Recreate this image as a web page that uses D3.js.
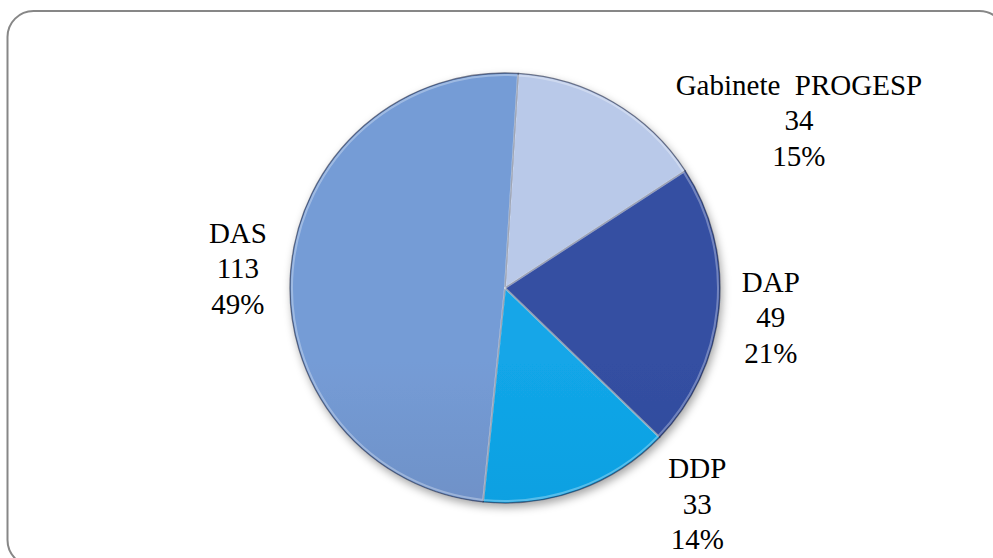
<!DOCTYPE html>
<html>
<head>
<meta charset="utf-8">
<script src="https://cdn.jsdelivr.net/npm/d3@7"></script>
<style>
  html, body { margin: 0; padding: 0; background: #ffffff; }
  svg { display: block; }
</style>
</head>
<body>
<div id="chart"></div>
<script>
// data
var categories = ["Gabinete  PROGESP", "DAP", "DDP", "DAS"];
var values = [34, 49, 33, 113];

// look of each slice: gradient top / bottom
var colorsTop = ["#b9c9e9", "#344fa2", "#12a6e8", "#759cd6"];
var colorsBottom = ["#97a8c4", "#2a438e", "#0795d4", "#627cab"];
// small nudges for labels that Excel pushed off the radial line
var labelShift = [[160, 62], [1, 4], [101, -34], [-2, 2]];

var width = 993, height = 558;
var cx = 505, cy = 288, radius = 215;
var rotation = 3.5 * Math.PI / 180;

var svg = d3.select("#chart").append("svg")
  .attr("width", width)
  .attr("height", height);

var defs = svg.append("defs");

var shadow = defs.append("filter")
  .attr("id", "shadow")
  .attr("x", "-20%").attr("y", "-20%")
  .attr("width", "140%").attr("height", "140%");
shadow.append("feDropShadow")
  .attr("dx", 2).attr("dy", 4)
  .attr("stdDeviation", 4)
  .attr("flood-color", "#000")
  .attr("flood-opacity", 0.35);

categories.forEach(function(c, i) {
  var g = defs.append("linearGradient")
    .attr("id", "grad" + i)
    .attr("gradientUnits", "userSpaceOnUse")
    .attr("x1", 0).attr("y1", cy - radius)
    .attr("x2", 0).attr("y2", cy + radius);
  g.append("stop").attr("offset", "0%").attr("stop-color", colorsTop[i]);
  g.append("stop").attr("offset", "100%").attr("stop-color", colorsBottom[i]);
});

// frame
svg.append("rect")
  .attr("x", 7.5).attr("y", 11)
  .attr("width", 998).attr("height", 555)
  .attr("rx", 26).attr("ry", 26)
  .attr("fill", "none")
  .attr("stroke", "#878787")
  .attr("stroke-width", 2);

var pie = d3.pie()
  .sort(null)
  .startAngle(rotation)
  .endAngle(rotation + 2 * Math.PI)
  .value(function(d) { return d; });

var arcs = pie(values);
var total = d3.sum(values);

var arc = d3.arc().innerRadius(0).outerRadius(radius);
var bevel = d3.arc().innerRadius(0).outerRadius(radius - 2);

var group = svg.append("g")
  .attr("transform", "translate(" + cx + "," + cy + ")");

var slices = group.append("g").attr("filter", "url(#shadow)");

slices.selectAll("path.slice").data(arcs).enter().append("path")
  .attr("class", "slice")
  .attr("d", arc)
  .attr("fill", function(d, i) { return "url(#grad" + i + ")"; })
  .attr("stroke", "rgba(30,40,70,0.6)")
  .attr("stroke-width", 1.3)
  .attr("stroke-linejoin", "round");

// soft bevel highlight along edges
group.selectAll("path.bevel").data(arcs).enter().append("path")
  .attr("class", "bevel")
  .attr("d", bevel)
  .attr("fill", "none")
  .attr("stroke", "rgba(255,255,255,0.3)")
  .attr("stroke-width", 2)
  .attr("stroke-linejoin", "round");

// labels
var labelRadius = 266;
var lineGap = 35.5;
var labels = group.selectAll("text.lbl").data(arcs).enter().append("text")
  .attr("class", "lbl")
  .attr("text-anchor", "middle")
  .style("font-family", "'Liberation Serif', 'Times New Roman', serif")
  .style("font-size", "29px")
  .style("fill", "#000")
  .attr("transform", function(d, i) {
    var a = (d.startAngle + d.endAngle) / 2;
    var x = Math.sin(a) * labelRadius + labelShift[i][0];
    var y = -Math.cos(a) * labelRadius + labelShift[i][1];
    return "translate(" + x + "," + y + ")";
  });

labels.each(function(d, i) {
  var t = d3.select(this);
  var lines = [categories[i], String(values[i]), Math.round(values[i] / total * 100) + "%"];
  lines.forEach(function(s, k) {
    t.append("tspan")
      .attr("x", 0)
      .attr("y", (k - 1) * lineGap + 10)
      .style("white-space", "pre")
      .text(s);
  });
});
</script>
</body>
</html>
